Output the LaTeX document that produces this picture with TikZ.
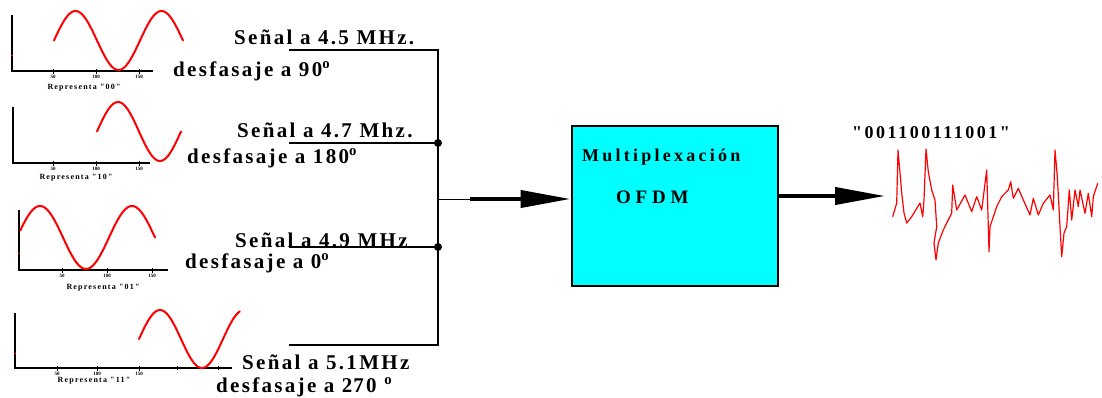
\documentclass[tikz,border=0pt]{standalone}
\usepackage{fontspec}
\setmainfont{Liberation Serif}
\newfontfamily\lblfont[LetterSpace=11]{Liberation Serif}
\newfontfamily\bitsfont[LetterSpace=14]{Liberation Serif}
\newfontfamily\boxfont[LetterSpace=18]{Liberation Serif}
\newfontfamily\ofdmfont[LetterSpace=25]{Liberation Serif}
\newfontfamily\capfont[LetterSpace=15]{Liberation Serif}
\usetikzlibrary{arrows.meta}
\definecolor{boxcyan}{RGB}{0,255,255}
\definecolor{sigred}{RGB}{255,0,0}
\tikzset{
  lbl/.style={anchor=west, inner sep=0pt, font=\lblfont\bfseries\fontsize{21}{23}\selectfont},
  captxt/.style={anchor=center, inner sep=0pt, font=\capfont\bfseries\fontsize{8}{9}\selectfont},
  ticklbl/.style={anchor=north, inner sep=0pt, font=\bfseries\fontsize{5}{6}\selectfont},
  axisline/.style={line width=2pt, black},
  wavecurve/.style={line width=2pt, sigred, line join=round, line cap=round},
  wireline/.style={line width=2.6pt, black},
  bigarrow/.style={line width=4pt, -{Triangle[length=50pt, width=17pt]}},
  junc/.style={circle, fill=black, inner sep=0pt, minimum size=8pt},
}
\begin{document}
\begin{tikzpicture}[x=1pt, y=-1pt]
\useasboundingbox (0,0) rectangle (1102,398);
% ---- panel 1
\draw[axisline] (12,15) -- (12,71) -- (153,71);
\foreach \t/\l in {53/50,96/100,139/150}{\draw[black, line width=1pt] (\t,69) -- (\t,74); \node[ticklbl] at (\t,75) {\l};}
\draw[sigred, line width=1pt] (11,56) -- (13,56);
\draw[wavecurve, domain=0:3*pi, samples=80] plot ({54 + \x/(2*pi)*86}, {40.5 - 29.5*sin(\x r)});
\node[captxt] (c1) at (84,88) {Representa "00"};
% ---- panel 2
\draw[axisline] (13,107) -- (13,163) -- (150,163);
\foreach \t/\l in {53/50,96/100,139/150}{\draw[black, line width=1pt] (\t,161) -- (\t,166); \node[ticklbl] at (\t,167) {\l};}
\draw[wavecurve, domain=0:2*pi, samples=60] plot ({97 + \x/(2*pi)*84}, {131.5 - 29.5*sin(\x r)});
\node[captxt] (c2) at (76,178) {Representa "10"};
% ---- panel 3
\draw[axisline] (19,210) -- (19,270) -- (168,270);
\foreach \t/\l in {62/50,107/100,152/150}{\draw[black, line width=1pt] (\t,268) -- (\t,273); \node[ticklbl] at (\t,274) {\l};}
\draw[sigred, line width=1pt] (18,253) -- (20,253);
\draw[wavecurve, domain=0.07*pi:3*pi, samples=80] plot ({17 + \x/(2*pi)*92}, {237.5 - 31.5*sin(\x r)});
\node[captxt] (c3) at (103,288) {Representa "01"};
% ---- panel 4
\draw[axisline] (15,313) -- (15,368) -- (232,368);
\foreach \t/\l in {57/50,97/100,139/150}{\draw[black, line width=1pt] (\t,366) -- (\t,371); \node[ticklbl] at (\t,372) {\l};}
\foreach \t in {177,218}{\draw[black, line width=0.6pt] (\t,366) -- (\t,370);}
\draw[sigred, line width=1pt] (14,353) -- (16,353);
\draw[wavecurve, domain=0:2.4*pi, samples=70] plot ({139 + \x/(2*pi)*84}, {339 - 29*sin(\x r)});
\node[captxt] (c4) at (94,381) {Representa "11"};
% ---- labels
\node[lbl] (s1) at (234,37) {Señal a 4.5 MHz.};
\node[lbl] (d1) at (173,71) {desfasaje a 90\textsuperscript{o}};
\node[lbl] (s2) at (237,130) {Señal a 4.7 Mhz.};
\node[lbl] (d2) at (187,158) {desfasaje a 180\textsuperscript{o}};
\node[lbl] (s3) at (235,240) {Señal a 4.9 MHz};
\node[lbl] (d3) at (185,263) {desfasaje a 0\textsuperscript{o}};
\node[lbl] (s4) at (242,362) {Señal a 5.1MHz};
\node[lbl] (d4) at (216,387) {desfasaje a 2\kern1pt 70 \textsuperscript{o}};
% ---- bus
\coordinate (a1) at (289,50);
\coordinate (a2) at (289,143);
\coordinate (a3) at (289,247);
\coordinate (a4) at (289,345);
\coordinate (b1) at (438,50);
\node[junc] (b2) at (438,143) {};
\coordinate (b3) at (438,199);
\node[junc] (b4) at (438,247) {};
\coordinate (b5) at (438,345);
\draw[wireline] (a1) -- (b1) -- (b2.center) -- (b4.center) -- (b5) -- (a4);
\draw[wireline] (a2) -- (b2.center);
\draw[wireline] (a3) -- (b4.center);
% ---- box
\node[draw=black, line width=2pt, fill=boxcyan, minimum width=206pt, minimum height=159pt, inner sep=0pt] (box) at (674.5,206) {};
\node[anchor=west, inner sep=0pt, font=\boxfont\bfseries\fontsize{18}{20}\selectfont] (m1) at (582,157) {Multiplexación};
\node[anchor=west, inner sep=0pt, font=\ofdmfont\bfseries\fontsize{19}{21}\selectfont] (m2) at (616,197) {OFDM};
% ---- input arrow
\coordinate (t1) at (470,199);
\draw[black, line width=1pt] (b3) -- (t1);
\draw[bigarrow] (t1) -- (box.west |- t1);
% ---- output arrow
\coordinate (o1) at (885,196);
\draw[bigarrow] (box.east |- o1) -- (o1);
% ---- bits
\node[anchor=west, inner sep=0pt, font=\bitsfont\bfseries\fontsize{18}{20}\selectfont] (bits) at (852,133) {"001100111001"};
% ---- output signal
\draw[sigred, line width=1.2pt, line join=round] plot coordinates {
(892.7,216.7) (896.7,203) (898,150) (900,173) (901.7,193) (904,213) (906.7,223)
(911.7,216.7) (920,203) (922.7,216.7) (924,200) (926,149) (928.3,171.7) (931.7,190)
(935,200) (936.7,226.7) (934,243) (936,260) (938.3,243) (943.3,230) (951.7,213)
(952.7,185) (956.7,210) (965,195) (971.7,211.7) (976.7,196.7) (981.7,210) (986.7,170)
(989,251.7) (990,226.7) (996.7,206.7) (1001.7,196.7) (1008.3,190) (1010.7,181.7)
(1013.3,198.3) (1018.3,188.3) (1023.3,200) (1030,215) (1033.3,198.3) (1038.3,215)
(1043.3,203.3) (1050,195) (1053.3,210) (1055,150) (1057.3,176.7) (1060,226.7)
(1061.7,256.7) (1064,233) (1066.7,226.7) (1069.3,190) (1071.7,220) (1075,190)
(1078.3,206.7) (1080,190) (1085,213.3) (1088.3,193.3) (1091.7,216.7) (1093.3,196.7)
(1097.7,183.3)};
\end{tikzpicture}
\end{document}
